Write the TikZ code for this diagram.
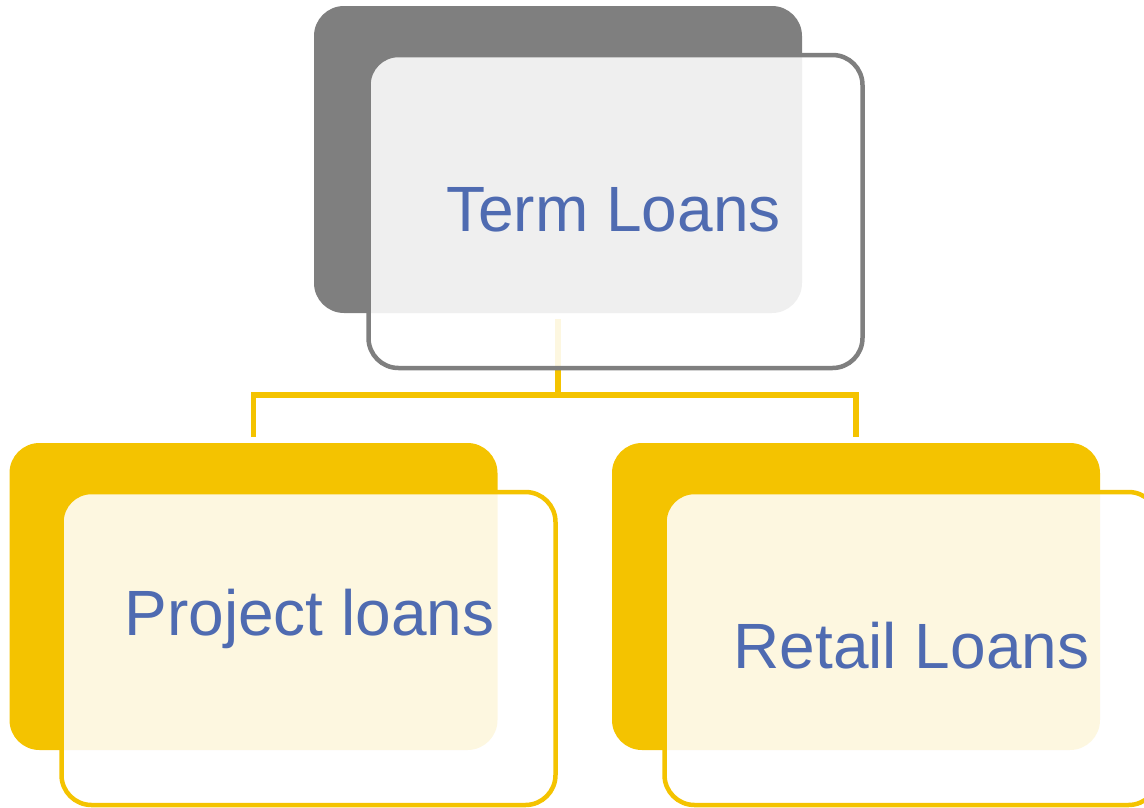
\documentclass[tikz,border=0pt]{standalone}
\usepackage{fontspec}
\setmainfont{Liberation Sans}
\usetikzlibrary{calc}
\definecolor{shade}{HTML}{7F7F7F}
\definecolor{gold}{HTML}{F4C300}
\definecolor{ink}{HTML}{4F6BB1}
\tikzset{
  backcard/.style={rounded corners=30pt, inner sep=0pt, outer sep=0pt,
    minimum width=488pt, minimum height=307pt},
  frontcard/.style={rounded corners=30pt, inner sep=0pt, outer sep=0pt,
    minimum width=494pt, minimum height=313pt, line width=4.5pt,
    fill=white, fill opacity=0.88, draw opacity=1},
  conn/.style={draw=gold, line width=5.5pt, line join=miter},
  caption/.style={text=ink, anchor=base, inner sep=0pt,
    font=\fontsize{64}{77}\selectfont}
}
\begin{document}
\begin{tikzpicture}[x=1pt,y=-1pt]
\useasboundingbox (0,0) rectangle (1144,807);
% back cards
\node[backcard, fill=shade] (tb) at (558,159.5) {};
\node[backcard, fill=gold] (pb) at (253.5,596.5) {};
\node[backcard, fill=gold] (rb) at (856,596.5) {};
% connectors
\coordinate (hub) at (558,395);
\draw[conn] ([yshift=-6pt]tb.south) -- (hub);
\draw[conn] ([yshift=6pt]pb.north) |- (hub) -| ([yshift=6pt]rb.north);
% front cards
\node[frontcard, draw=shade] (tf) at (615.5,211.5) {};
\node[frontcard, draw=gold] (pf) at (308.5,648.5) {};
\node[frontcard, draw=gold] (rf) at (911.5,648.5) {};
% captions
\node[caption] (tt) at (613.5,231) {Term Loans};
\node[caption] (pt) at (309.5,635) {Project loans};
\node[caption] (rt) at (911.5,668) {Retail Loans};
\end{tikzpicture}
\end{document}
